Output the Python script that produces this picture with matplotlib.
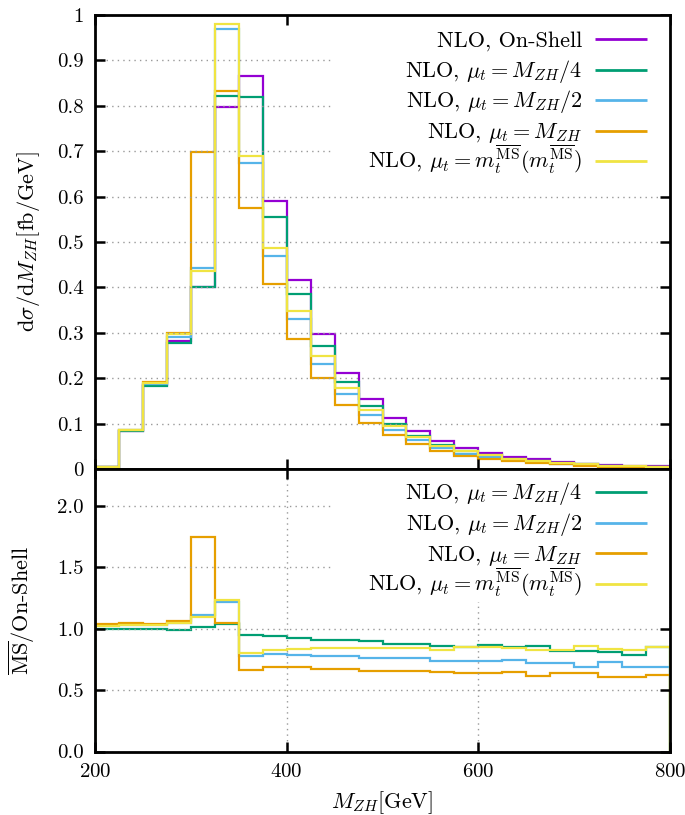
import numpy as np
import matplotlib
matplotlib.use('Agg')
import matplotlib.pyplot as plt
from matplotlib.patches import Rectangle
from matplotlib.transforms import offset_copy

plt.rcParams['font.family'] = 'serif'
plt.rcParams['font.serif'] = ['cmr10']
plt.rcParams['mathtext.fontset'] = 'cm'
plt.rcParams['axes.formatter.use_mathtext'] = True
plt.rcParams['axes.unicode_minus'] = False

# bin edges in GeV
edges = np.arange(200, 801, 25)

# d sigma / d M_ZH  [fb/GeV]
on_shell = [0.005, 0.083, 0.186, 0.282, 0.400, 0.797, 0.866, 0.590, 0.416, 0.298, 0.211, 0.154,
            0.113, 0.083, 0.062, 0.046, 0.035, 0.026, 0.021, 0.016, 0.012, 0.009, 0.007, 0.006]
mu_quarter = [0.005, 0.083, 0.183, 0.277, 0.400, 0.822, 0.819, 0.556, 0.385, 0.272, 0.191, 0.139,
              0.099, 0.073, 0.054, 0.040, 0.030, 0.022, 0.018, 0.013, 0.010, 0.007, 0.0055, 0.005]
mu_half = [0.005, 0.085, 0.188, 0.290, 0.443, 0.970, 0.674, 0.469, 0.330, 0.232, 0.165, 0.118,
           0.086, 0.063, 0.046, 0.034, 0.026, 0.019, 0.015, 0.0115, 0.0085, 0.0066, 0.0049, 0.0042]
mu_full = [0.005, 0.086, 0.192, 0.300, 0.698, 0.833, 0.576, 0.407, 0.286, 0.200, 0.142, 0.102,
           0.075, 0.055, 0.040, 0.029, 0.022, 0.017, 0.013, 0.010, 0.0077, 0.0055, 0.0042, 0.0038]
mu_mt = [0.005, 0.085, 0.190, 0.297, 0.437, 0.981, 0.690, 0.487, 0.348, 0.250, 0.178, 0.130,
         0.095, 0.070, 0.051, 0.039, 0.030, 0.022, 0.017, 0.013, 0.010, 0.0075, 0.0058, 0.005]

# ratios MSbar / On-Shell
r_quarter = [1.00, 1.00, 0.995, 0.99, 1.01, 1.035, 0.945, 0.944, 0.923, 0.909, 0.907, 0.896,
             0.879, 0.879, 0.863, 0.855, 0.871, 0.855, 0.86, 0.822, 0.82, 0.814, 0.787, 0.855]
r_half = [1.03, 1.03, 1.03, 1.05, 1.108, 1.217, 0.779, 0.795, 0.787, 0.779, 0.779, 0.763,
          0.763, 0.763, 0.741, 0.741, 0.741, 0.744, 0.722, 0.72, 0.692, 0.73, 0.692, 0.692]
r_full = [1.037, 1.043, 1.04, 1.064, 1.75, 1.048, 0.662, 0.687, 0.687, 0.670, 0.670, 0.659,
          0.657, 0.657, 0.648, 0.64, 0.64, 0.648, 0.618, 0.636, 0.638, 0.61, 0.605, 0.627]
r_mt = [1.025, 1.03, 1.03, 1.05, 1.092, 1.233, 0.806, 0.825, 0.833, 0.839, 0.842, 0.845,
        0.845, 0.842, 0.825, 0.847, 0.847, 0.845, 0.825, 0.83, 0.858, 0.833, 0.828, 0.855]

labels = ['NLO, On-Shell',
          r'NLO, $\mu_t = M_{ZH}/4$',
          r'NLO, $\mu_t = M_{ZH}/2$',
          r'NLO, $\mu_t = M_{ZH}$',
          r'NLO, $\mu_t = m_t^{\overline{\mathrm{MS}}}(m_t^{\overline{\mathrm{MS}}})$']
colors = ['#9400d3', '#009e73', '#56b4e9', '#e69f00', '#f0e442']

fs = 15
lfs = 16
lw = 1.6

fig = plt.figure(figsize=(6.85, 8.15), dpi=100)
ax1 = fig.add_axes([0.1387, 0.4245, 0.8394, 0.557])
ax2 = fig.add_axes([0.1387, 0.0779, 0.8394, 0.3466])

top = [on_shell, mu_quarter, mu_half, mu_full, mu_mt]
for vals, c in zip(top, colors):
    ax1.stairs(vals, edges, baseline=0, color=c, lw=lw)

bot = [r_quarter, r_half, r_full, r_mt]
for vals, c in zip(bot, colors[1:]):
    ax2.stairs(vals, edges, baseline=0, color=c, lw=lw)

ax1.set_xlim(200, 800)
ax1.set_ylim(0, 1)
ax1.set_yticks(np.arange(0, 1.01, 0.1))
ax1.set_yticklabels(['0', '0.1', '0.2', '0.3', '0.4', '0.5', '0.6', '0.7', '0.8', '0.9', '1'])
ax1.set_xticks([200, 400, 600, 800])
ax1.set_xticklabels([])
ax1.set_ylabel(r'$\mathrm{d}\sigma/\mathrm{d}M_{ZH}[\mathrm{fb/GeV}]$', fontsize=lfs)
ax1.yaxis.set_label_coords(-0.092, 0.5)

ax2.set_xlim(200, 800)
ax2.set_ylim(0, 2.3)
ax2.set_yticks([0.0, 0.5, 1.0, 1.5, 2.0])
ax2.set_yticklabels(['0.0', '0.5', '1.0', '1.5', '2.0'])
ax2.set_xticks([200, 400, 600, 800])
ax2.set_xlabel(r'$M_{ZH}[\mathrm{GeV}]$', fontsize=lfs, labelpad=6)
ax2.set_ylabel(r'$\overline{\mathrm{MS}}$/On-Shell', fontsize=lfs)
ax2.yaxis.set_label_coords(-0.101, 0.5)

for ax in (ax1, ax2):
    ax.tick_params(direction='in', length=7, width=1.8, labelsize=fs, top=True, right=True, pad=8)
    for s in ax.spines.values():
        s.set_linewidth(2.0)
    ax.set_axisbelow('line')

ax1.yaxis.grid(True, ls=(0, (1, 3)), color='#999999', lw=1.0)
ax2.grid(True, ls=(0, (1, 3)), color='#999999', lw=1.0)


def key(ax, labs, cols, first, step, box_bottom):
    # white key box hides the grid behind it
    ax.add_patch(Rectangle((0.414, box_bottom), 0.586, 1 - box_bottom, transform=ax.transAxes,
                           facecolor='white', edgecolor='none', zorder=1.8))
    tr = offset_copy(ax.transAxes, fig=fig, x=0, y=-0.33 * lfs, units='points')
    for i, (lab, c) in enumerate(zip(labs, cols)):
        y = 1 - first - i * step
        ax.plot([0.8696, 0.96], [y, y], color=c, lw=2.0, transform=ax.transAxes,
                solid_capstyle='butt', zorder=3)
        ax.text(0.847, y, lab, transform=tr, ha='right', va='baseline', fontsize=lfs, zorder=3)


key(ax1, labels, colors, 0.0529, 0.0672, 0.6256)
key(ax2, labels[1:], colors[1:], 0.0814, 0.1087, 0.529)

fig.savefig('out.png', dpi=100)
